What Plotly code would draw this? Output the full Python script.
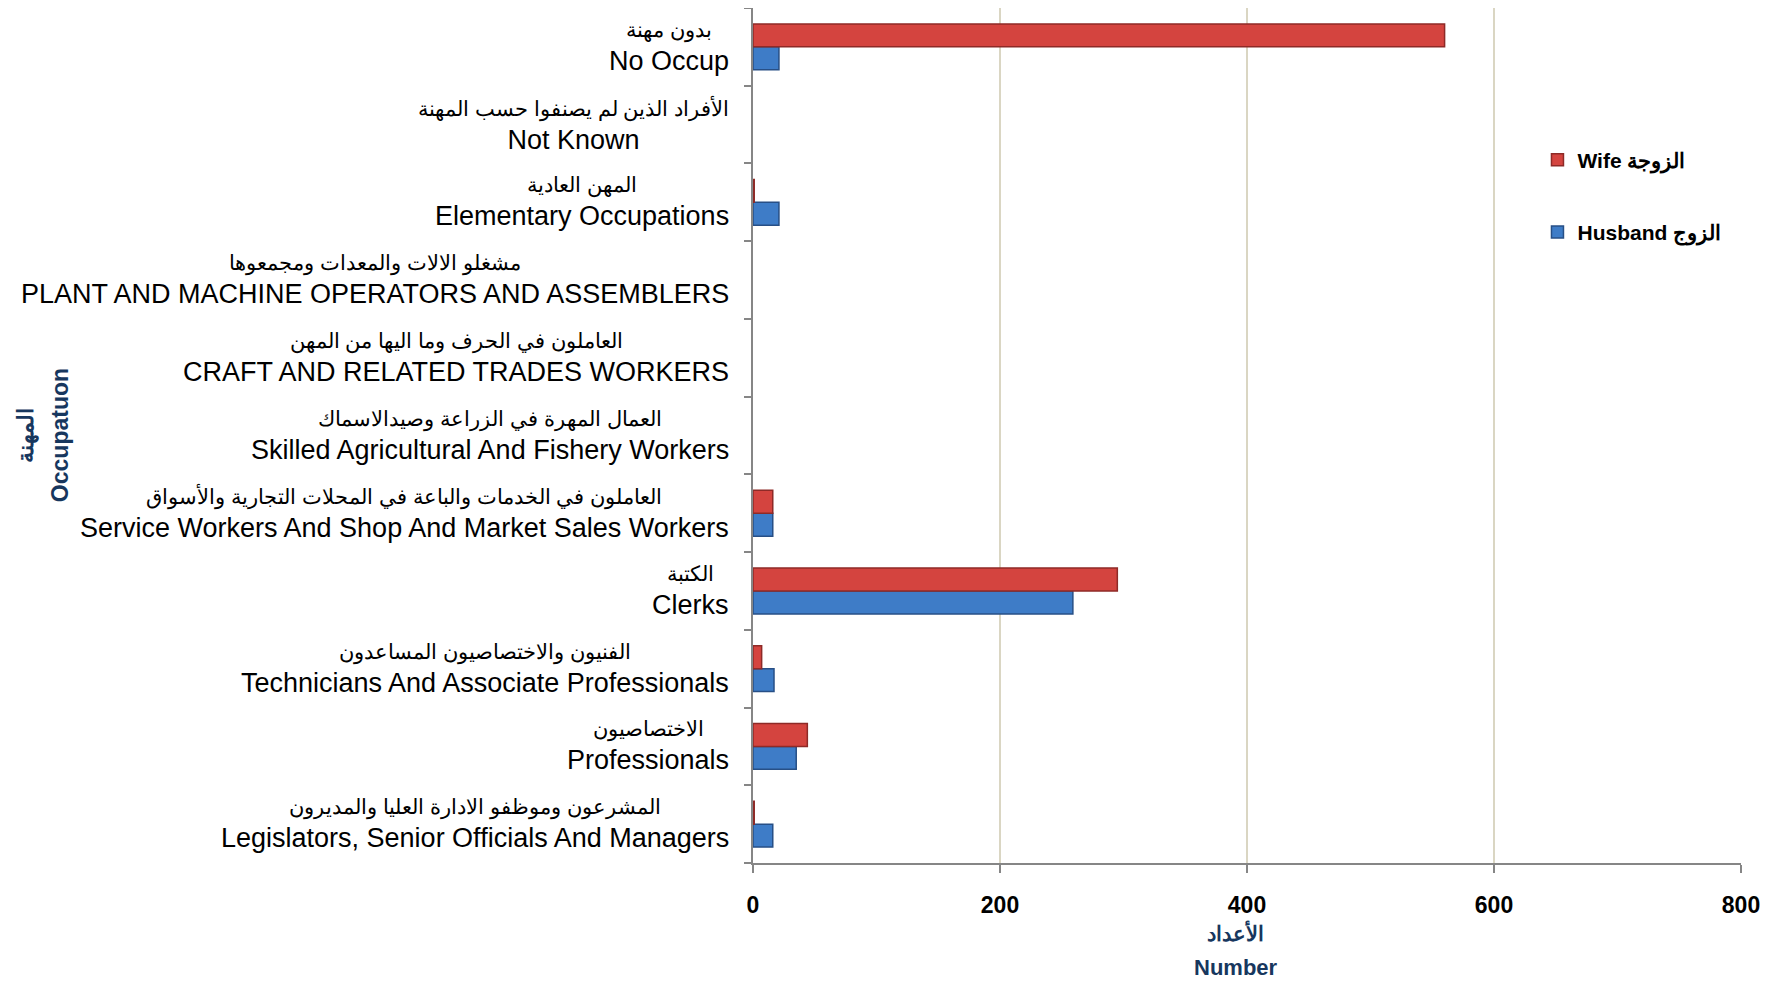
import plotly.graph_objects as go

# categories bottom -> top
cat_en = [
    "Legislators, Senior Officials And Managers",
    "Professionals",
    "Technicians And Associate Professionals",
    "Clerks",
    "Service Workers And Shop And Market Sales Workers",
    "Skilled Agricultural And Fishery Workers",
    "CRAFT AND RELATED TRADES WORKERS",
    "PLANT AND MACHINE OPERATORS AND ASSEMBLERS",
    "Elementary Occupations",
    "Not Known",
    "No Occup",
]
cat_ar = [
    "المشرعون وموظفو الادارة العليا والمديرون",
    "الاختصاصيون",
    "الفنيون والاختصاصيون المساعدون",
    "الكتبة",
    "العاملون في الخدمات والباعة في المحلات التجارية والأسواق",
    "العمال المهرة في الزراعة وصيدالاسماك",
    "العاملون في الحرف وما اليها من المهن",
    "مشغلو الالات والمعدات ومجمعوها",
    "المهن العادية",
    "الأفراد الذين لم يصنفوا حسب المهنة",
    "بدون مهنة",
]
wife = [1, 44, 7, 295, 16, 0, 0, 0, 1, 0, 560]
husband = [16, 35, 17, 259, 16, 0, 0, 0, 21, 0, 21]
x_ticks = [0, 200, 400, 600, 800]


def line_widths(vals):
    return [1.5 if v > 0 else 0 for v in vals]


fig = go.Figure()
fig.add_trace(go.Bar(
    y=cat_en, x=husband, orientation="h", name="Husband الزوج",
    legendgroup="h", legendrank=2,
    marker=dict(color="#3E7CC7", line=dict(color="#274F86", width=line_widths(husband))),
))
fig.add_trace(go.Bar(
    y=cat_en, x=wife, orientation="h", name="Wife الزوجة",
    legendgroup="w", legendrank=1,
    marker=dict(color="#D4443F", line=dict(color="#8E2A27", width=line_widths(wife))),
))

annotations = []
for en, ar in zip(cat_en, cat_ar):
    annotations.append(dict(
        x=-0.022, xref="paper", y=en, yref="y", xanchor="right", yanchor="middle",
        align="center", showarrow=False,
        text=f"<span style='font-size:21px'>{ar}</span><br><span style='font-size:27px'>{en}</span>",
        font=dict(family="Liberation Sans, Arial", size=25, color="#000000"),
    ))

annotations.append(dict(
    x=-0.719, xref="paper", y=0.5, yref="paper", xanchor="center", yanchor="middle",
    textangle=-90, showarrow=False, align="center",
    text="<span style='font-size:22px'><b>المهنة</b></span><br><span style='font-size:23px'><b>Occupatuon</b></span>",
    font=dict(family="Liberation Sans, Arial", size=27, color="#17375E"),
))
annotations.append(dict(
    x=0.489, xref="paper", y=-0.102, yref="paper", xanchor="center", yanchor="middle",
    showarrow=False, align="center",
    text="<span style='font-size:21px'><b>الأعداد</b></span><br><span style='font-size:22px'><b>Number</b></span>",
    font=dict(family="Liberation Sans, Arial", size=26, color="#17375E"),
))

fig.update_layout(
    width=1770, height=974,
    margin=dict(l=745, r=37, t=0, b=119),
    paper_bgcolor="white", plot_bgcolor="white",
    barmode="group", bargap=0.41, bargroupgap=0,
    showlegend=True,
    legend=dict(
        x=0.794, y=0.846, xanchor="left", yanchor="top",
        tracegroupgap=42,
        font=dict(family="Liberation Sans, Arial", size=21, color="#000000", weight="bold"),
        bgcolor="rgba(0,0,0,0)",
    ),
    annotations=annotations,
    xaxis=dict(
        range=[0, 800], tickvals=x_ticks, ticktext=[str(v) for v in x_ticks],
        showgrid=True, gridcolor="#DAD6C3", gridwidth=2, zeroline=False,
        showline=True, linecolor="#868686", linewidth=2,
        ticks="outside", ticklen=8, tickcolor="#868686", tickwidth=2,
        ticklabelstandoff=12,
        tickfont=dict(family="Liberation Sans, Arial", size=23, color="#000000", weight="bold"),
        fixedrange=True,
    ),
    yaxis=dict(
        categoryorder="array", categoryarray=cat_en,
        showticklabels=False, showgrid=False, zeroline=False,
        showline=True, linecolor="#868686", linewidth=2,
        ticks="outside", tickson="boundaries", ticklen=7, tickcolor="#868686", tickwidth=2,
        fixedrange=True,
    ),
)

fig.write_html("out.html")
